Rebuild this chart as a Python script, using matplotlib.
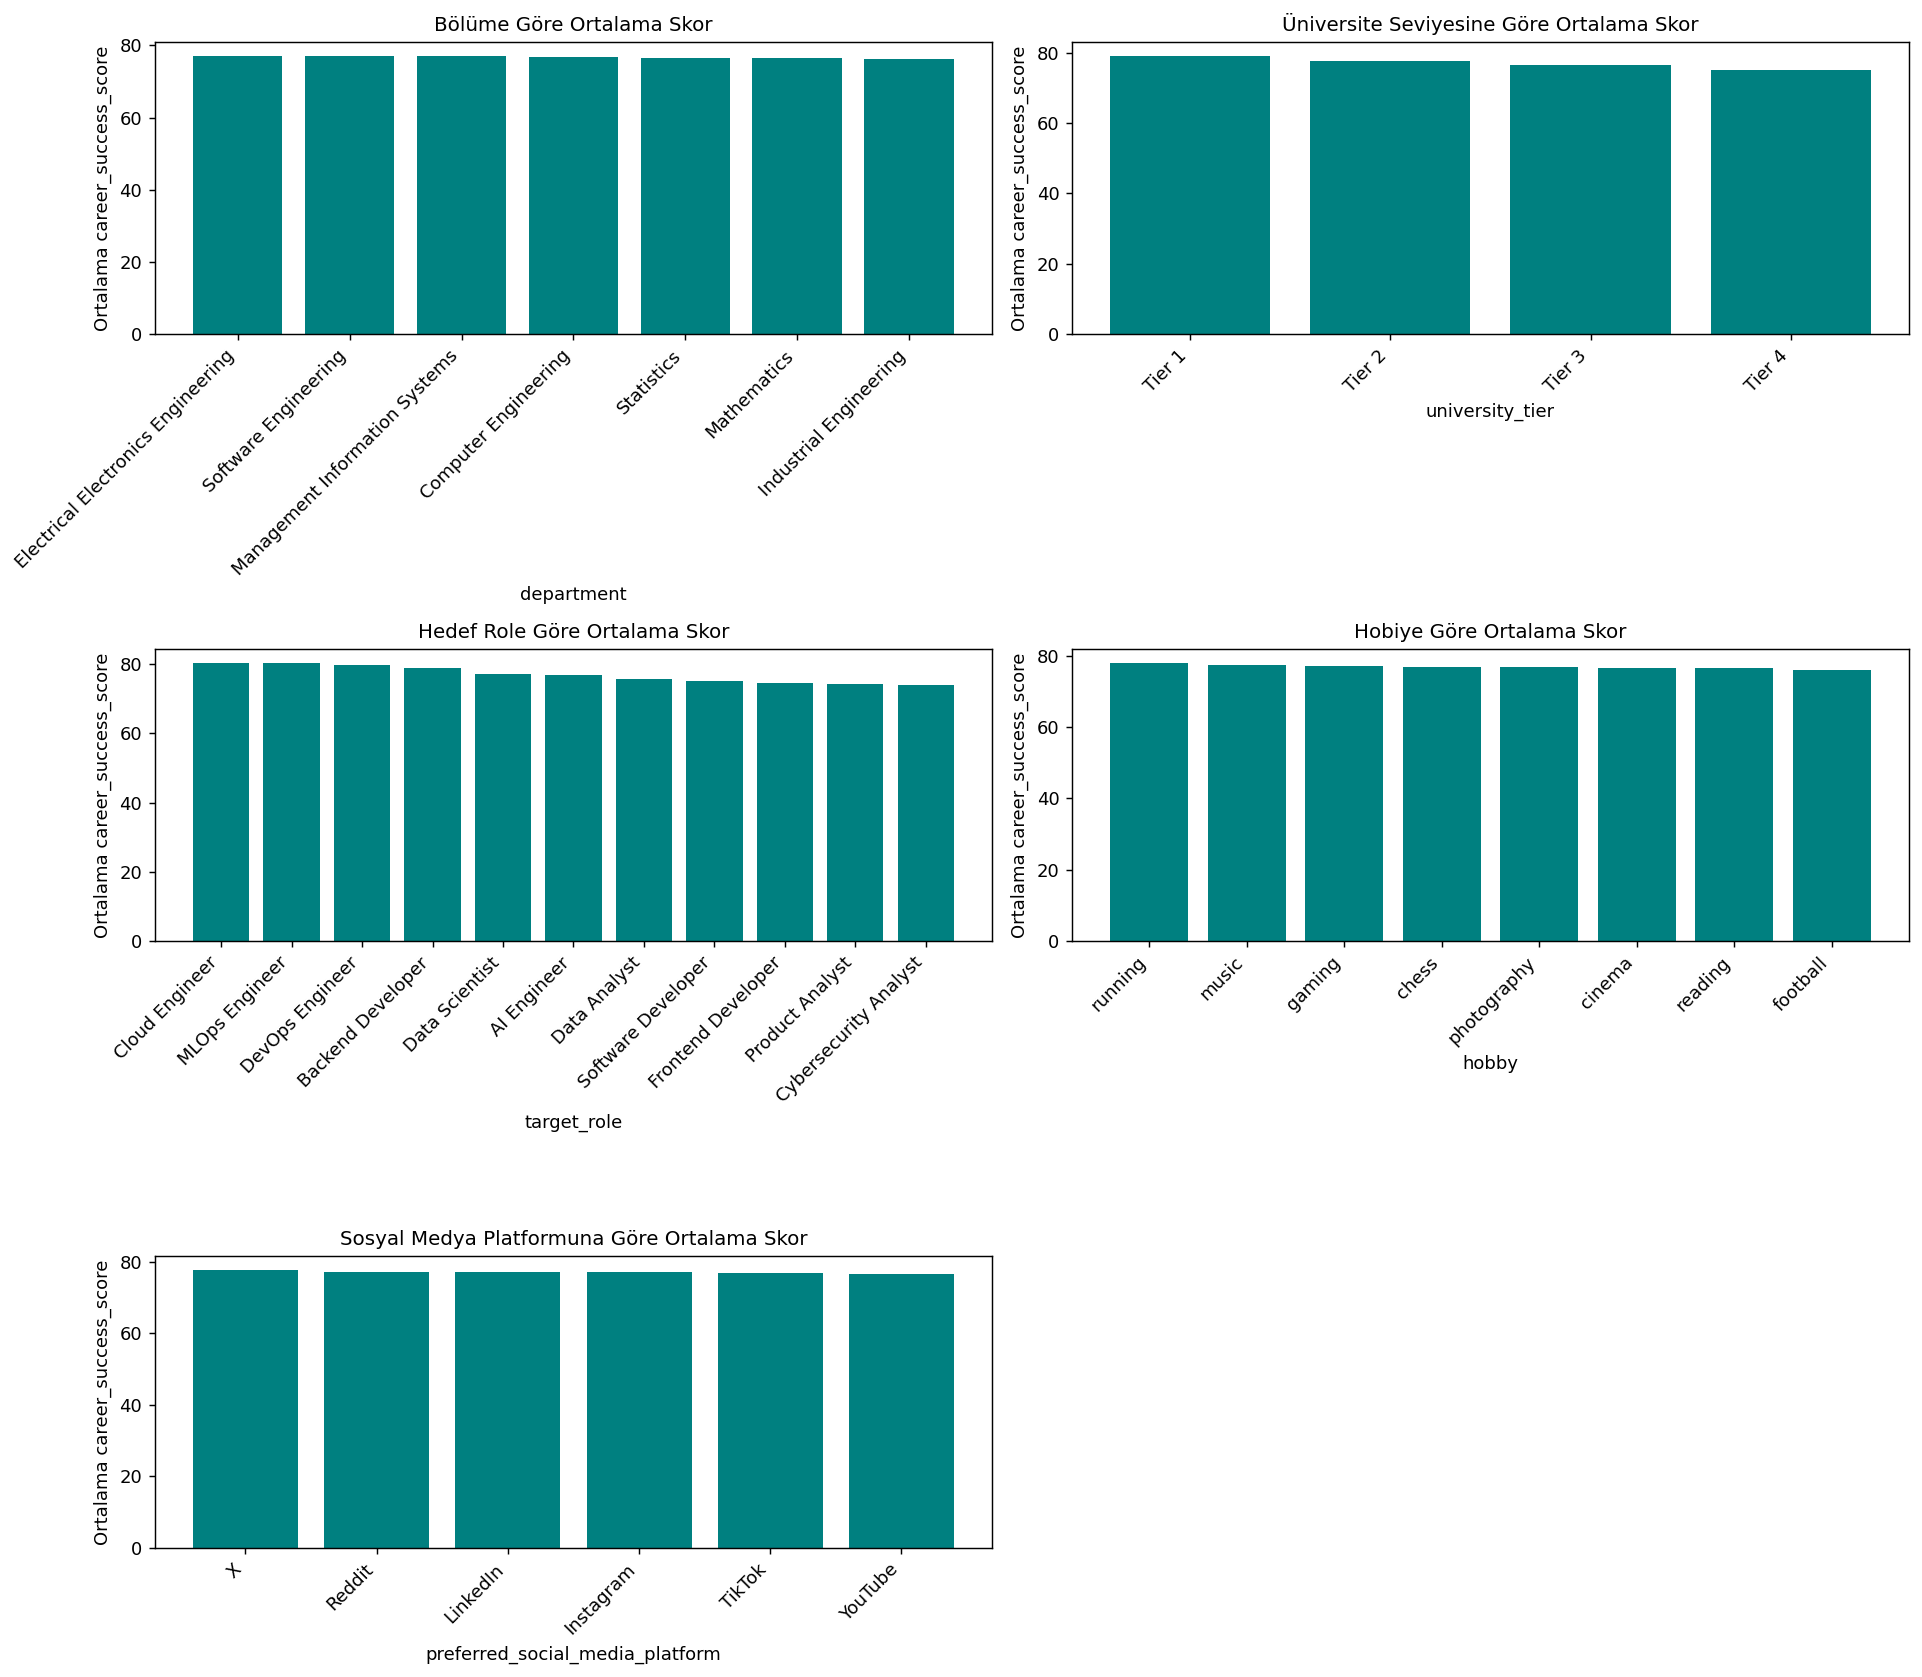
import matplotlib
matplotlib.use("Agg")
import matplotlib.pyplot as plt


departments = ["Electrical Electronics Engineering", "Software Engineering",
               "Management Information Systems", "Computer Engineering",
               "Statistics", "Mathematics", "Industrial Engineering"]
dept_scores = [77.1, 77.1, 77.05, 76.8, 76.55, 76.5, 76.2]

tiers = ["Tier 1", "Tier 2", "Tier 3", "Tier 4"]
tier_scores = [79.07, 77.68, 76.57, 75.18]

roles = ["Cloud Engineer", "MLOps Engineer", "DevOps Engineer", "Backend Developer",
         "Data Scientist", "AI Engineer", "Data Analyst", "Software Developer",
         "Frontend Developer", "Product Analyst", "Cybersecurity Analyst"]
role_scores = [80.38, 80.36, 79.8, 78.94, 77.2, 76.92, 75.77, 75.19, 74.6, 74.32, 74.03]

hobbies = ["running", "music", "gaming", "chess", "photography", "cinema", "reading", "football"]
hobby_scores = [77.98, 77.4, 77.11, 76.84, 76.82, 76.56, 76.54, 75.96]

platforms = ["X", "Reddit", "LinkedIn", "Instagram", "TikTok", "YouTube"]
platform_scores = [77.67, 77.14, 77.12, 77.1, 76.84, 76.56]

panels = [
    ("Bölüme Göre Ortalama Skor", "department", departments, dept_scores),
    ("Üniversite Seviyesine Göre Ortalama Skor", "university_tier", tiers, tier_scores),
    ("Hedef Role Göre Ortalama Skor", "target_role", roles, role_scores),
    ("Hobiye Göre Ortalama Skor", "hobby", hobbies, hobby_scores),
    ("Sosyal Medya Platformuna Göre Ortalama Skor", "preferred_social_media_platform",
     platforms, platform_scores),
]

fig, axes = plt.subplots(3, 2, figsize=(14.785, 12.9), dpi=130)
axes = axes.flatten()

for ax, (title, col, labels, scores) in zip(axes, panels):
    ax.bar(labels, scores, color="teal")
    ax.set_title(title, fontsize=11)
    ax.set_xlabel(col)
    ax.set_ylabel("Ortalama career_success_score")
    ax.set_xticks(range(len(labels)))
    ax.set_xticklabels(labels, rotation=45, ha="right")
    ax.yaxis.set_major_locator(plt.MultipleLocator(20))

fig.delaxes(axes[5])
fig.subplots_adjust(left=0.0806, right=0.9932, top=0.975, bottom=0.0769,
                    wspace=0.0956, hspace=1.079)
plt.savefig("out.png")
